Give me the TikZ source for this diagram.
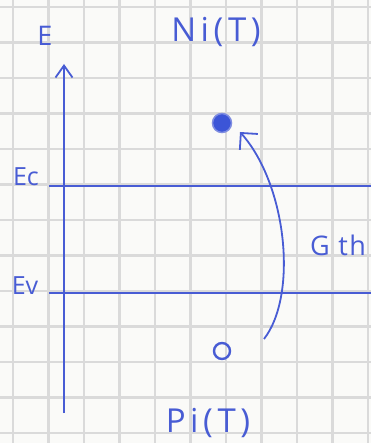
\documentclass[tikz,border=0pt]{standalone}
\usepackage{fontspec}
\setmainfont{Open Sans}
\usetikzlibrary{arrows.meta}
\definecolor{ink}{RGB}{72,92,212}
\definecolor{inkdot}{RGB}{60,85,215}
\definecolor{gridc}{RGB}{218,218,218}
\definecolor{paper}{RGB}{250,250,248}
\tikzset{
  gridline/.style={draw=gridc, line width=2.6pt},
  inkline/.style={draw=ink, line width=1.8pt},
  lbl/.style={text=ink, inner sep=0pt, font=\fontsize{27}{30}\selectfont\addfontfeature{LetterSpace=6}},
  biglbl/.style={text=ink, inner sep=0pt, font=\fontsize{33}{36}\selectfont\addfontfeature{LetterSpace=14}},
  smalllbl/.style={text=ink, inner sep=0pt, font=\fontsize{25}{28}\selectfont},
}
\begin{document}
\begin{tikzpicture}[x=1pt,y=-1pt]
\useasboundingbox (0,0) rectangle (371,443);
\fill[paper] (0,0) rectangle (371,443);
% grid paper
\foreach \i in {0,...,10} \draw[gridline] ({13+35.5*\i},0) -- ({13+35.5*\i},443);
\foreach \j in {0,...,12} \draw[gridline] (0,{7+35.5*\j}) -- (371,{7+35.5*\j});
% axis
\coordinate (axbot) at (64,413);
\coordinate (axtop) at (64,64);
\draw[inkline, -{Straight Barb[length=12pt,width=17pt,line width=1.8pt]}] (axbot) -- (axtop);
\node[lbl] (E) at (45,36) {E};
% band edges
\node[smalllbl] (Ec) at (26,177) {Ec};
\node[smalllbl] (Ev) at (25,286) {Ev};
\coordinate (ecl) at (49,186);
\coordinate (ecr) at (371,186);
\coordinate (evl) at (49,293);
\coordinate (evr) at (371,293);
\draw[inkline] (ecl) -- (ecr);
\draw[inkline] (evl) -- (evr);
% carriers
\node[circle, fill=inkdot, draw=ink!70, line width=1.5pt, minimum size=19pt, inner sep=0pt] (n) at (222,123) {};
\node[circle, draw=ink, line width=2.4pt, minimum size=16pt, inner sep=0pt] (p) at (222,351) {};
\node[biglbl] (Ni) at (216,32) {Ni(T)};
\node[biglbl] (Pi) at (208,423) {Pi(T)};
% thermal generation arrow
\coordinate (gs) at (264,339);
\coordinate (ge) at (240,132);
\draw[inkline, -{Straight Barb[length=12pt,width=24pt,line width=1.8pt]}] (gs) .. controls (298,295) and (287,185) .. (ge);
\node[lbl] (G) at (338,245) {G th};
\end{tikzpicture}
\end{document}
